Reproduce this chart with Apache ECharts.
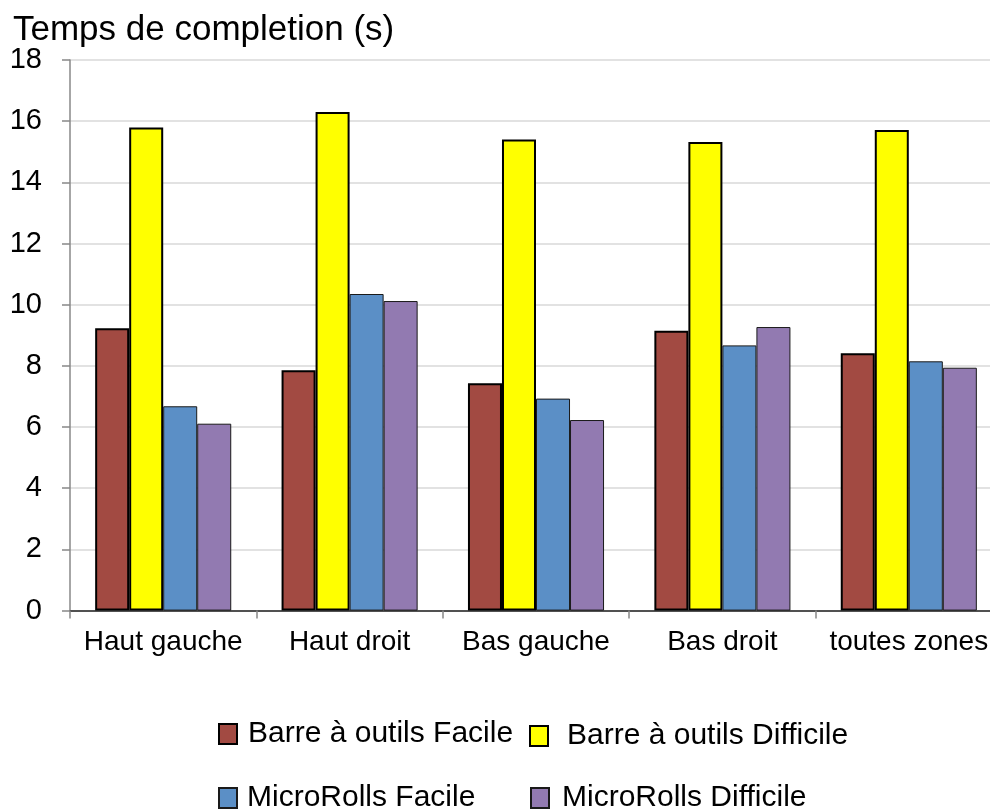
<!DOCTYPE html>
<html>
<head>
<meta charset="utf-8">
<script src="https://cdn.jsdelivr.net/npm/echarts@6/dist/echarts.min.js"></script>
<style>
  html, body { margin: 0; padding: 0; background: #fff; }
  #chart { width: 990px; height: 810px; }
</style>
</head>
<body>
<div id="chart"></div>
<script>
// Zones of the screen
const categories = ['Haut gauche', 'Haut droit', 'Bas gauche', 'Bas droit', 'toutes zones'];

// Completion times (seconds) per technique and difficulty
const barreFacile = [9.23, 7.86, 7.43, 9.15, 8.41];
const barreDifficile = [15.79, 16.30, 15.40, 15.32, 15.71];
const microFacile = [6.68, 10.35, 6.93, 8.67, 8.15];
const microDifficile = [6.11, 10.12, 6.23, 9.27, 7.94];

const yTicks = [0, 2, 4, 6, 8, 10, 12, 14, 16, 18];

const FONT = '"Liberation Sans", Arial, sans-serif';

const seriesDefs = [
  { name: 'Barre à outils Facile', data: barreFacile, color: '#A24A42', border: '#000', bw: 2 },
  { name: 'Barre à outils Difficile', data: barreDifficile, color: '#FFFF00', border: '#000', bw: 2 },
  { name: 'MicroRolls Facile', data: microFacile, color: '#5B8FC6', border: '#1a1a1a', bw: 1 },
  { name: 'MicroRolls Difficile', data: microDifficile, color: '#927AB1', border: '#1a1a1a', bw: 1 }
];

const legendPos = [
  { left: 218, top: 719, gap: 6 },
  { left: 529, top: 721, gap: 14 },
  { left: 218, top: 783, gap: 5 },
  { left: 530, top: 783, gap: 8 }
];

const chart = echarts.init(document.getElementById('chart'), null, { renderer: 'canvas' });

chart.setOption({
  animation: false,
  backgroundColor: '#ffffff',
  title: {
    text: 'Temps de completion (s)',
    left: 8,
    top: 8,
    textStyle: { fontFamily: FONT, fontSize: 35, fontWeight: 'normal', color: '#000' }
  },
  legend: seriesDefs.map((s, i) => ({
    data: [s.name],
    left: legendPos[i].left,
    top: legendPos[i].top,
    padding: 0,
    icon: 'rect',
    itemWidth: 18,
    itemHeight: 20,
    textStyle: { fontFamily: FONT, fontSize: 30, color: '#000', padding: [0, 0, 0, legendPos[i].gap] }
  })),
  grid: { left: 70, top: 60, width: 932, height: 550.6, containLabel: false, outerBoundsMode: 'none' },
  xAxis: {
    type: 'category',
    data: categories,
    boundaryGap: true,
    axisLine: { show: true, lineStyle: { color: '#222', width: 1.5 } },
    axisTick: { show: true, interval: 0, alignWithLabel: false, length: 8, lineStyle: { color: '#888', width: 1.5 } },
    axisLabel: { interval: 0, fontFamily: FONT, fontSize: 28, color: '#000', margin: 18 }
  },
  yAxis: {
    type: 'value',
    min: yTicks[0],
    max: yTicks[yTicks.length - 1],
    interval: 2,
    axisLine: { show: true, lineStyle: { color: '#888', width: 1.5 } },
    axisTick: { show: true, length: 8, lineStyle: { color: '#888', width: 1.5 } },
    axisLabel: { fontFamily: FONT, fontSize: 29, color: '#000', margin: 28 },
    splitLine: { show: true, lineStyle: { color: '#d9d9d9', width: 1.5 } }
  },
  series: seriesDefs.map(s => ({
    type: 'bar',
    name: s.name,
    data: s.data,
    barGap: '0%',
    barCategoryGap: '27%',
    itemStyle: { color: s.color, borderColor: s.border, borderWidth: s.bw }
  }))
});
</script>
</body>
</html>
